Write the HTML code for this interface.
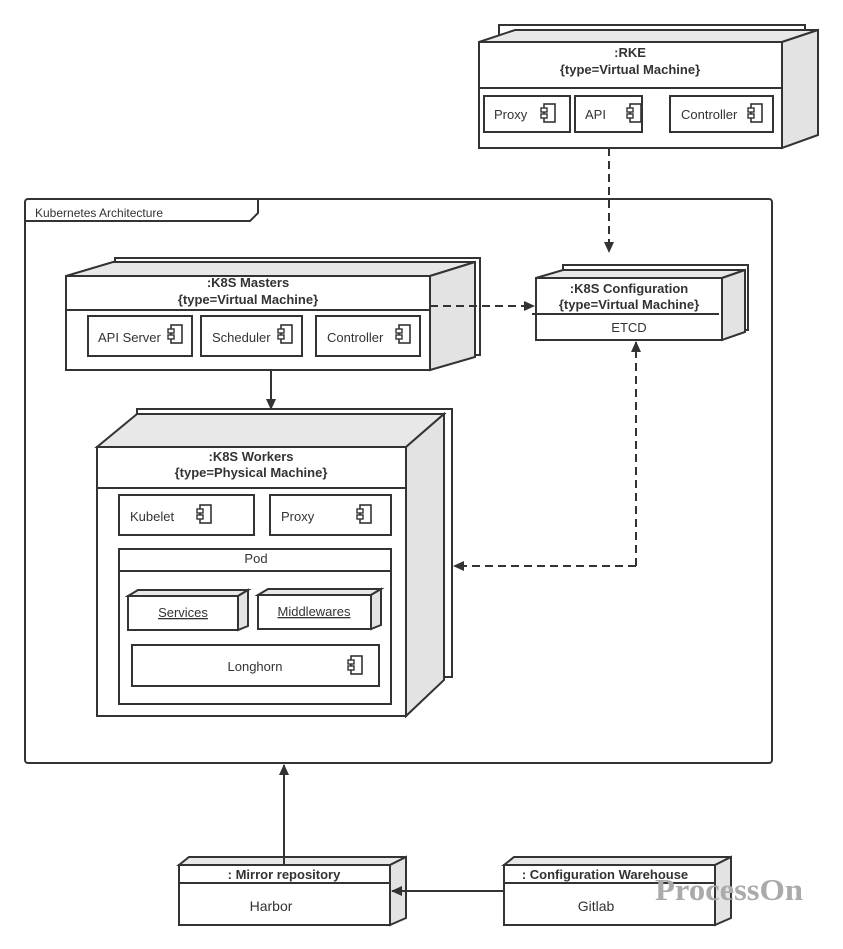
<!DOCTYPE html>
<html><head><meta charset="utf-8"><style>
html,body{margin:0;padding:0;background:#fff;}
svg{display:block;}
text{font-family:"Liberation Sans","DejaVu Sans",sans-serif;fill:#333;}
.b{font-weight:bold;}
</style></head><body>
<svg width="843" height="949" viewBox="0 0 843 949" xmlns="http://www.w3.org/2000/svg">
<defs>
<marker id="ar" markerWidth="12" markerHeight="12" refX="10" refY="5" orient="auto" markerUnits="userSpaceOnUse">
<path d="M0,0 L11,5 L0,10 Z" fill="#333"/>
</marker>
<g id="ic"><rect x="3" y="0" width="11" height="18" fill="#fff" stroke="#333" stroke-width="1.6"/><rect x="0" y="4" width="6" height="4" fill="#fff" stroke="#333" stroke-width="1.4"/><rect x="0" y="10" width="6" height="4" fill="#fff" stroke="#333" stroke-width="1.4"/></g>
</defs>
<g stroke="#333" stroke-width="2" fill="#fff">
<rect x="499" y="25" width="306" height="20"/>
<polygon points="479,42 515,30 818,30 782,42" fill="#e8e8e8"/>
<polygon points="782,42 818,30 818,135 782,148" fill="#e3e3e3"/>
<rect x="479" y="42" width="303" height="106"/>
<line x1="479" y1="88" x2="782" y2="88"/>
<rect x="484" y="96" width="86" height="36"/>
<rect x="575" y="96" width="67" height="36"/>
<rect x="670" y="96" width="103" height="36"/>

<rect x="25" y="199" width="747" height="564" rx="3" fill="none"/>
<polyline points="25,221 250,221 258,213 258,199" fill="none"/>

<rect x="115" y="258" width="365" height="97"/>
<polygon points="66,276 113,262 475,262 430,276" fill="#e8e8e8"/>
<polygon points="430,276 475,262 475,357 430,370" fill="#e3e3e3"/>
<rect x="66" y="276" width="364" height="94"/>
<line x1="66" y1="310" x2="430" y2="310"/>
<rect x="88" y="316" width="104" height="40"/>
<rect x="201" y="316" width="101" height="40"/>
<rect x="316" y="316" width="104" height="40"/>

<rect x="563" y="265" width="185" height="65"/>
<polygon points="536,278 563,270 745,270 722,278" fill="#e8e8e8"/>
<polygon points="722,278 745,270 745,332 722,340" fill="#e3e3e3"/>
<rect x="536" y="278" width="186" height="62"/>
<line x1="532" y1="314" x2="719" y2="314"/>

<rect x="137" y="409" width="315" height="268"/>
<polygon points="97,447 137,414 444,414 406,447" fill="#e8e8e8"/>
<polygon points="406,447 444,414 444,680 406,716" fill="#e3e3e3"/>
<rect x="97" y="447" width="309" height="269"/>
<line x1="97" y1="488" x2="406" y2="488"/>
<rect x="119" y="495" width="135" height="40"/>
<rect x="270" y="495" width="121" height="40"/>
<rect x="119" y="549" width="272" height="155"/>
<line x1="119" y1="571" x2="391" y2="571"/>
<polygon points="128,596 138,590 248,590 238,596" fill="#e8e8e8"/>
<polygon points="238,596 248,590 248,626 238,630" fill="#e3e3e3"/>
<rect x="128" y="596" width="110" height="34"/>
<polygon points="258,595 268,589 381,589 371,595" fill="#e8e8e8"/>
<polygon points="371,595 381,589 381,625 371,629" fill="#e3e3e3"/>
<rect x="258" y="595" width="113" height="34"/>
<rect x="132" y="645" width="247" height="41"/>

<polygon points="179,865 189,857 406,857 390,865" fill="#e8e8e8"/>
<polygon points="390,865 406,857 406,918 390,925" fill="#e3e3e3"/>
<rect x="179" y="865" width="211" height="60"/>
<line x1="179" y1="883" x2="390" y2="883"/>
<polygon points="504,865 514,857 731,857 715,865" fill="#e8e8e8"/>
<polygon points="715,865 731,857 731,918 715,925" fill="#e3e3e3"/>
<rect x="504" y="865" width="211" height="60"/>
<line x1="504" y1="883" x2="715" y2="883"/>
</g>

<use href="#ic" x="541" y="104"/>
<use href="#ic" x="627" y="104"/>
<use href="#ic" x="748" y="104"/>
<use href="#ic" x="168" y="325"/>
<use href="#ic" x="278" y="325"/>
<use href="#ic" x="396" y="325"/>
<use href="#ic" x="197" y="505"/>
<use href="#ic" x="357" y="505"/>
<use href="#ic" x="348" y="656"/>

<g stroke="#333" stroke-width="2" fill="none">
<line x1="609" y1="148" x2="609" y2="252" stroke-dasharray="8,5" marker-end="url(#ar)"/>
<line x1="430" y1="306" x2="534" y2="306" stroke-dasharray="8,5" marker-end="url(#ar)"/>
<line x1="271" y1="370" x2="271" y2="409" marker-end="url(#ar)"/>
<polyline points="636,566 636,342" stroke-dasharray="8,5" marker-end="url(#ar)"/>
<polyline points="636,566 454,566" stroke-dasharray="8,5" marker-end="url(#ar)"/>
<line x1="284" y1="865" x2="284" y2="765" marker-end="url(#ar)"/>
<line x1="504" y1="891" x2="392" y2="891" marker-end="url(#ar)"/>
</g>

<g font-size="13" text-anchor="middle">
<text x="630" y="57" class="b">:RKE</text>
<text x="630" y="74" class="b">{type=Virtual Machine}</text>
<text x="248" y="287" class="b">:K8S Masters</text>
<text x="248" y="304" class="b">{type=Virtual Machine}</text>
<text x="629" y="293" class="b">:K8S Configuration</text>
<text x="629" y="309" class="b">{type=Virtual Machine}</text>
<text x="629" y="332">ETCD</text>
<text x="251" y="461" class="b">:K8S Workers</text>
<text x="251" y="477" class="b">{type=Physical Machine}</text>
<text x="256" y="563">Pod</text>
<text x="183" y="617" text-decoration="underline">Services</text>
<text x="314" y="616" text-decoration="underline">Middlewares</text>
<text x="255" y="671">Longhorn</text>
<text x="284" y="879" class="b">: Mirror repository</text>
<text x="271" y="911" font-size="14">Harbor</text>
<text x="605" y="879" class="b">: Configuration Warehouse</text>
<text x="596" y="911" font-size="14">Gitlab</text>
</g>
<g font-size="13">
<text x="494" y="119">Proxy</text>
<text x="585" y="119">API</text>
<text x="681" y="119">Controller</text>
<text x="98" y="342">API Server</text>
<text x="212" y="342">Scheduler</text>
<text x="327" y="342">Controller</text>
<text x="130" y="521">Kubelet</text>
<text x="281" y="521">Proxy</text>
<text x="35" y="217" font-size="12">Kubernetes Architecture</text>
</g>
<text x="655" y="900" textLength="148" lengthAdjust="spacingAndGlyphs" style="font-family:'Liberation Serif',serif;font-weight:bold;font-size:31px;fill:#aaa">ProcessOn</text>
</svg>
</body></html>
